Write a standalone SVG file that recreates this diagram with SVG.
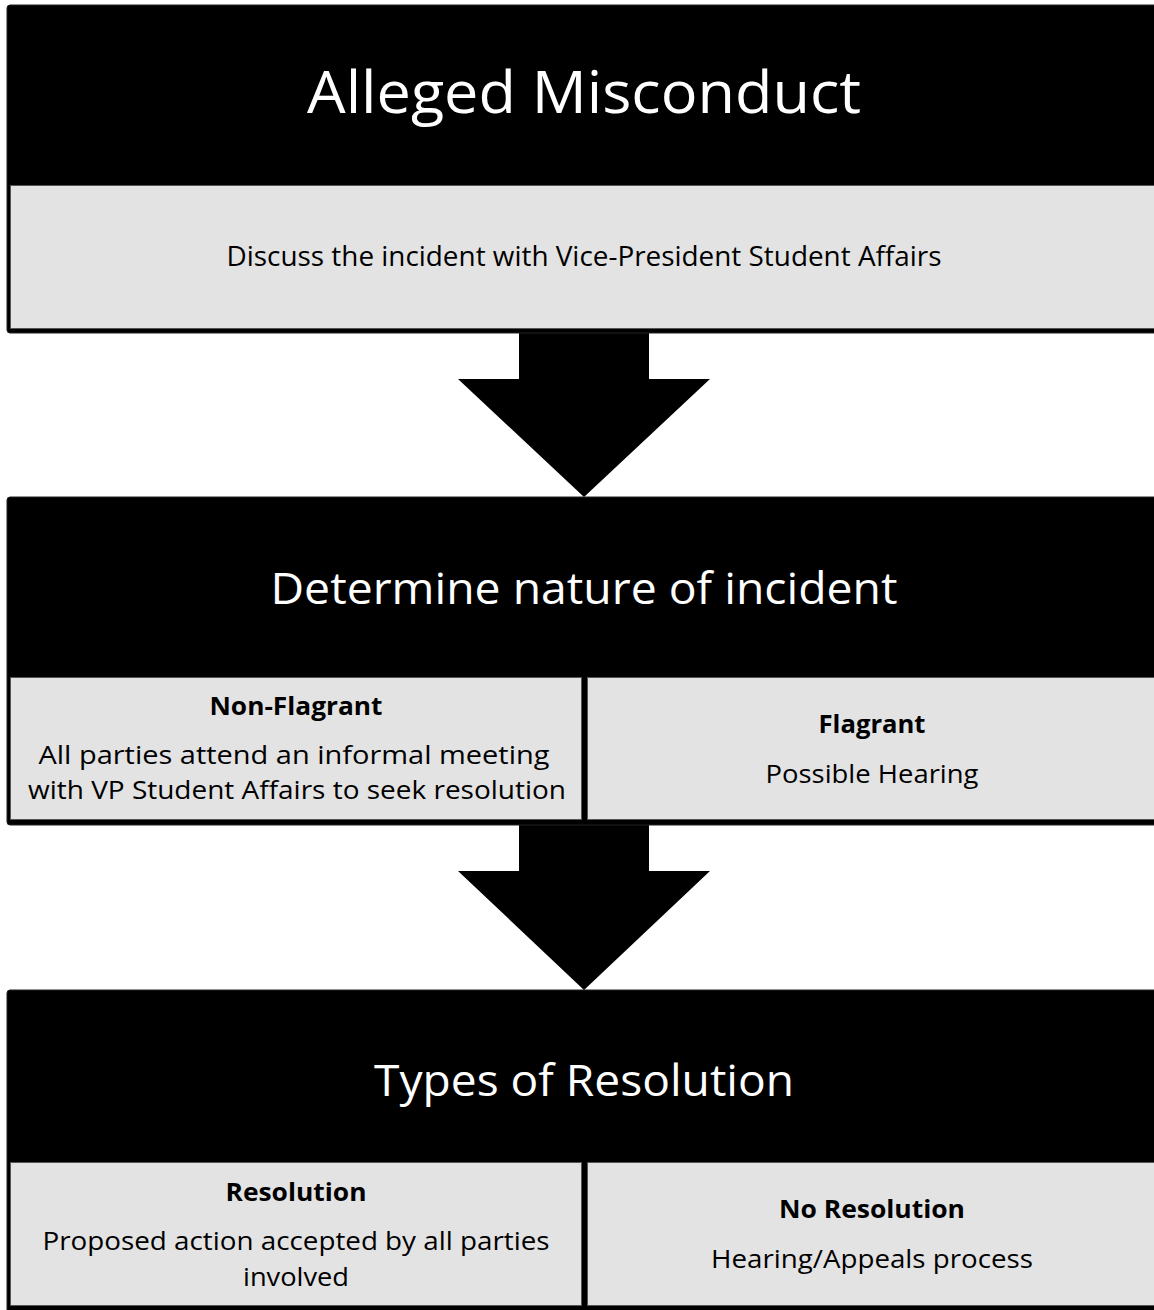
<svg xmlns="http://www.w3.org/2000/svg" width="1154" height="1310" viewBox="0 0 1154 1310">
<style>
.outer{fill:#000;stroke:#222;stroke-width:1}
.cell{fill:#e3e3e3;stroke:#555;stroke-width:1}
.arrow{fill:#000}
text{font-family:"Open Sans","Noto Sans","Liberation Sans",sans-serif;text-anchor:middle}
.h{fill:#fff;font-size:59px}
.h2{fill:#fff;font-size:44px}
.b{fill:#000;font-size:25.5px}
.lb{fill:#000;font-size:25px;font-weight:bold}
</style>
<rect width="1154" height="1310" fill="#fff"/>
<g id="connectors">
<polygon class="arrow" points="519,333 649,333 649,379 710,379 584,497 458,379 519,379"/>
<polygon class="arrow" points="519,825 649,825 649,871 710,871 584,990 458,871 519,871"/>
</g>
<g id="node-alleged">
<rect class="outer" x="7" y="5" width="1160" height="328" rx="3"/>
<rect class="cell" x="10.5" y="185.5" width="1160" height="143"/>
<text class="h" x="584" y="113" textLength="554" lengthAdjust="spacingAndGlyphs">Alleged Misconduct</text>
<text class="b" x="584" y="266" style="font-size:27.5px" textLength="715" lengthAdjust="spacingAndGlyphs">Discuss the incident with Vice-President Student Affairs</text>
</g>
<g id="node-determine">
<rect class="outer" x="7" y="497" width="1160" height="328" rx="3"/>
<rect class="cell" x="10.5" y="677.5" width="571" height="142"/>
<rect class="cell" x="587.5" y="677.5" width="580" height="142"/>
<text class="h2" x="584" y="604" textLength="627" lengthAdjust="spacingAndGlyphs">Determine nature of incident</text>
<text class="lb" x="296" y="715" textLength="173" lengthAdjust="spacingAndGlyphs">Non-Flagrant</text>
<text class="b" x="294" y="764" textLength="511" lengthAdjust="spacingAndGlyphs">All parties attend an informal meeting</text>
<text class="b" x="297" y="799" textLength="538" lengthAdjust="spacingAndGlyphs">with VP Student Affairs to seek resolution</text>
<text class="lb" x="872" y="733" textLength="107" lengthAdjust="spacingAndGlyphs">Flagrant</text>
<text class="b" x="872" y="783" textLength="213" lengthAdjust="spacingAndGlyphs">Possible Hearing</text>
</g>
<g id="node-types">
<rect class="outer" x="7" y="990" width="1160" height="325" rx="3"/>
<rect class="cell" x="10.5" y="1162.5" width="571" height="143"/>
<rect class="cell" x="587.5" y="1162.5" width="580" height="143"/>
<text class="h2" x="584" y="1096" textLength="420" lengthAdjust="spacingAndGlyphs">Types of Resolution</text>
<text class="lb" x="296" y="1201" textLength="141" lengthAdjust="spacingAndGlyphs">Resolution</text>
<text class="b" x="296" y="1250" textLength="507" lengthAdjust="spacingAndGlyphs">Proposed action accepted by all parties</text>
<text class="b" x="296" y="1286" textLength="106" lengthAdjust="spacingAndGlyphs">involved</text>
<text class="lb" x="872" y="1218" textLength="186" lengthAdjust="spacingAndGlyphs">No Resolution</text>
<text class="b" x="872" y="1268" textLength="322" lengthAdjust="spacingAndGlyphs">Hearing/Appeals process</text>
</g>
</svg>
